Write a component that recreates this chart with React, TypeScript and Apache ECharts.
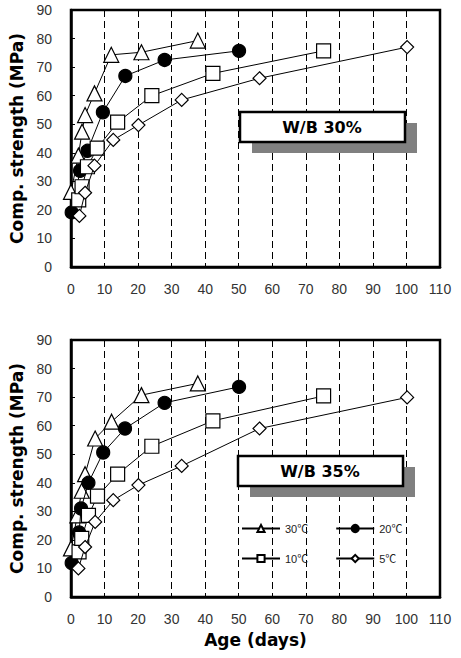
import React, { useEffect, useRef } from "react";
import * as echarts from "echarts";

// Top panel (W/B 30%)
const top30X = [0, 2.2, 3.3, 4.2, 7, 12, 21, 37.8];
const top30Y = [26.3, 39, 47.4, 53.2, 60.8, 74.3, 75.2, 79.3];
const top20X = [0.2, 2.7, 4.9, 9.5, 16.2, 27.9, 50.1];
const top20Y = [19.1, 33.7, 40.7, 54.2, 66.9, 72.5, 75.7];
const top10X = [2.3, 3.3, 4.9, 7.8, 13.9, 24.1, 42.3, 75.3];
const top10Y = [23.5, 28.1, 35.1, 41.6, 50.7, 60, 67.8, 75.7];
const top5X = [2.5, 4.2, 7, 12.6, 20.1, 33, 56.2, 100.2];
const top5Y = [17.9, 26, 35.5, 44.5, 49.7, 58.5, 66.1, 77];

// Bottom panel (W/B 35%)
const bot30X = [0, 1.9, 3.2, 4.2, 7.2, 12.1, 21, 37.8];
const bot30Y = [17, 28.6, 37.2, 43, 55.5, 61.4, 70.7, 74.8];
const bot20X = [0.2, 2.4, 3, 5.2, 9.6, 16.1, 27.9, 50.1];
const bot20Y = [11.9, 22.6, 31, 40, 50.6, 59, 68, 73.6];
const bot10X = [2.4, 3.2, 5.2, 7.9, 13.9, 24.1, 42.3, 75.3];
const bot10Y = [15.8, 20.5, 28.6, 35.3, 43, 52.8, 61.7, 70.4];
const bot5X = [2.2, 4.2, 7.2, 12.6, 20.1, 33, 56.2, 100.2];
const bot5Y = [10, 17.5, 26.3, 33.9, 39.2, 45.9, 59, 69.9];

const seriesNames = ["30℃", "20℃", "10℃", "5℃"];
const panelLabels = ["W/B 30%", "W/B 35%"];
const yAxisName = "Comp. strength (MPa)";
const xAxisName = "Age (days)";

const FONT = "'Liberation Sans', Arial, 'Noto Sans CJK KR', sans-serif";
const BOLD_FONT = "'DejaVu Sans', 'Liberation Sans', sans-serif";

const zip = (xs: number[], ys: number[]) => xs.map((x, i) => [x, ys[i]]);

const symbolDefs = [
  { symbol: "triangle", size: 15, fill: "#fff" },
  { symbol: "circle", size: 13, fill: "#000" },
  { symbol: "rect", size: 14, fill: "#fff" },
  { symbol: "diamond", size: 13, fill: "#fff" },
];

function makeSeries(name: string, idx: number, data: number[][], gridIdx: number) {
  const s = symbolDefs[idx];
  return {
    type: "line",
    name,
    xAxisIndex: gridIdx,
    yAxisIndex: gridIdx,
    data,
    symbol: s.symbol,
    symbolSize: s.size,
    clip: false,
    lineStyle: { color: "#000", width: 1 },
    itemStyle: { color: s.fill, borderColor: "#000", borderWidth: 1.2 },
    z: 3 + idx,
  };
}

function xAxis(gridIndex: number, withName: boolean) {
  return {
    type: "value",
    gridIndex,
    min: 0,
    max: 110,
    interval: 10,
    name: withName ? xAxisName : "",
    nameLocation: "middle",
    nameGap: 34,
    nameTextStyle: { fontFamily: BOLD_FONT, fontSize: 17, fontWeight: "bold", color: "#000" },
    axisLine: { show: true, onZero: false, lineStyle: { color: "#000", width: 2.5 } },
    axisTick: { show: false },
    axisLabel: { fontFamily: FONT, fontSize: 14, color: "#333", margin: 15 },
    splitLine: { show: true, lineStyle: { color: "#000", width: 1, type: [7, 4] } },
  };
}

function yAxis(gridIndex: number) {
  return {
    type: "value",
    gridIndex,
    min: 0,
    max: 90,
    interval: 10,
    name: yAxisName,
    nameLocation: "middle",
    nameGap: 37,
    nameTextStyle: { fontFamily: BOLD_FONT, fontSize: 17, fontWeight: "bold", color: "#000" },
    axisLine: { show: true, lineStyle: { color: "#000", width: 2.5 } },
    axisTick: { show: true, inside: true, length: 4, lineStyle: { color: "#000", width: 1 } },
    axisLabel: { fontFamily: FONT, fontSize: 14, color: "#333", margin: 19 },
    splitLine: { show: false },
  };
}

function labelBox(x: number, y: number, text: string) {
  return [
    { type: "rect", shape: { x: x + 12, y: y + 11, width: 165, height: 30 }, style: { fill: "#808080" }, z: 10 },
    { type: "rect", shape: { x, y, width: 165, height: 30 }, style: { fill: "#fff", stroke: "#000", lineWidth: 2.5 }, z: 11 },
    {
      type: "text",
      x: x + 82,
      y: y + 15,
      style: { text, fontFamily: BOLD_FONT, fontSize: 16, fontWeight: "bold", fill: "#000", align: "center", verticalAlign: "middle" },
      z: 12,
    },
  ];
}

export default function App() {
  const ref = useRef<HTMLDivElement>(null);
  useEffect(() => {
    if (!ref.current) return;
    const chart = echarts.init(ref.current, undefined, { renderer: "svg" });
    const legendCommon = {
      orient: "horizontal",
      itemWidth: 38,
      itemHeight: 9,
      itemGap: 27,
      textStyle: { fontFamily: FONT, fontSize: 11, color: "#222" },
      selectedMode: false,
    };
    chart.setOption({
      animation: false,
      backgroundColor: "#fff",
      grid: [
        { left: 71, top: 10, width: 369, height: 257, show: true, borderColor: "#000", borderWidth: 2.5, backgroundColor: "transparent" },
        { left: 71, top: 340, width: 369, height: 257, show: true, borderColor: "#000", borderWidth: 2.5, backgroundColor: "transparent" },
      ],
      xAxis: [xAxis(0, false), xAxis(1, true)],
      yAxis: [yAxis(0), yAxis(1)],
      legend: [
        { ...legendCommon, data: [seriesNames[0], seriesNames[1]], left: 236, top: 518 },
        { ...legendCommon, data: [seriesNames[2], seriesNames[3]], left: 236, top: 548 },
      ],
      graphic: [...labelBox(240, 112, panelLabels[0]), ...labelBox(238, 456, panelLabels[1])],
      series: [
        makeSeries(seriesNames[0] + " ", 0, zip(top30X, top30Y), 0),
        makeSeries(seriesNames[1] + " ", 1, zip(top20X, top20Y), 0),
        makeSeries(seriesNames[2] + " ", 2, zip(top10X, top10Y), 0),
        makeSeries(seriesNames[3] + " ", 3, zip(top5X, top5Y), 0),
        makeSeries(seriesNames[0], 0, zip(bot30X, bot30Y), 1),
        makeSeries(seriesNames[1], 1, zip(bot20X, bot20Y), 1),
        makeSeries(seriesNames[2], 2, zip(bot10X, bot10Y), 1),
        makeSeries(seriesNames[3], 3, zip(bot5X, bot5Y), 1),
      ],
    });
    return () => chart.dispose();
  }, []);
  return <div ref={ref} style={{ position: "fixed", left: 0, top: 0, width: 461, height: 658 }} />;
}
